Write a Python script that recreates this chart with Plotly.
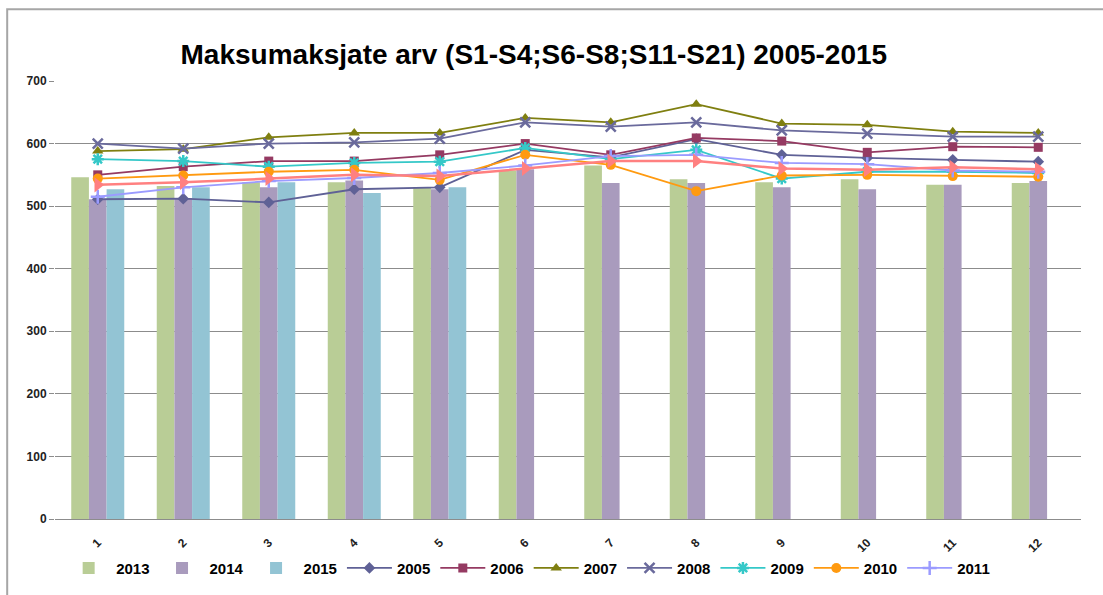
import plotly.graph_objects as go

categories = ["1", "2", "3", "4", "5", "6", "7", "8", "9", "10", "11", "12"]

bar_2013 = [546, 532, 538, 538, 530, 557, 565, 543, 538, 543, 534, 537]
bar_2014 = [511, 513, 530, 541, 527, 559, 537, 537, 530, 527, 534, 540]
bar_2015 = [527, 530, 538, 521, 530, None, None, None, None, None, None, None]

line_2005 = [511, 512, 506, 527, 530, 590, 578, 607, 582, 577, 574, 571]
line_2006 = [550, 563, 572, 572, 582, 600, 582, 609, 604, 586, 595, 594]
line_2007 = [588, 591, 610, 617, 617, 641, 634, 663, 632, 630, 619, 617]
line_2008 = [600, 592, 600, 602, 608, 634, 627, 634, 621, 616, 611, 611]
line_2009 = [575, 572, 563, 569, 571, 593, 575, 590, 544, 555, 555, 553]
line_2010 = [544, 549, 555, 558, 542, 582, 566, 524, 549, 550, 548, 547]
line_2011 = [515, 530, 540, 545, 553, 565, 580, 582, 569, 567, 557, 555]
line_2012 = [534, 538, 544, 550, 548, 560, 572, 572, 560, 558, 562, 559]

y_ticks = [0, 100, 200, 300, 400, 500, 600, 700]

fig = go.Figure()

bars = [("2013", bar_2013, "#B9CD96"), ("2014", bar_2014, "#A99BBD"), ("2015", bar_2015, "#93C4D4")]
for name, vals, col in bars:
    fig.add_trace(go.Bar(x=categories, y=vals, name=name, marker=dict(color=col, line=dict(width=0))))

lines = [
    ("2005", line_2005, "#5F6196", "diamond", 9, True),
    ("2006", line_2006, "#953A62", "square", 9, True),
    ("2007", line_2007, "#7F7F10", "triangle-up", 10, True),
    ("2008", line_2008, "#6A6A9C", "x-thin", 10, True),
    ("2009", line_2009, "#35C8C8", "asterisk", 10, True),
    ("2010", line_2010, "#FF9A10", "circle", 10, True),
    ("2011", line_2011, "#9B9BFF", "cross-thin", 10, True),
    ("2012", line_2012, "#FF8080", "triangle-right", 13, False),
]
for name, vals, col, sym, size, show in lines:
    thin = sym.endswith("-thin") or sym == "asterisk"
    marker = dict(symbol=sym, size=size, color=col,
                  line=dict(color=col, width=2.5 if thin else 0))
    fig.add_trace(go.Scatter(x=categories, y=vals, name=name, mode="lines+markers",
                             line=dict(color=col, width=2.5 if name == "2012" else 1.8),
                             marker=marker, showlegend=show))

# outer chart frame
fig.add_shape(type="rect", xref="paper", yref="paper",
              x0=-0.0466, x1=1.1, y0=-0.3, y1=1.164,
              line=dict(color="#A6A6A6", width=2), fillcolor="rgba(0,0,0,0)", layer="below")

fig.update_layout(
    width=1103, height=595,
    margin=dict(l=55, r=22, t=81, b=76, autoexpand=False),
    paper_bgcolor="white", plot_bgcolor="white",
    barmode="group", bargap=0.38, bargroupgap=0,
    title=dict(text="<b>Maksumaksjate arv (S1-S4;S6-S8;S11-S21) 2005-2015</b>",
               x=0.484, xanchor="center", y=0.909, yanchor="middle",
               font=dict(family="Liberation Sans Narrow, Arial Narrow, Liberation Sans, Arial", size=28, color="black")),
    font=dict(family="Liberation Sans, Arial", color="#1a1a1a"),
    legend=dict(orientation="h", x=0.006, xanchor="left", yref="container", y=0.045, yanchor="middle",
                font=dict(size=15, family="Liberation Sans, Arial", color="black", weight="bold"),
                itemwidth=45, tracegroupgap=0, traceorder="normal"),
    xaxis=dict(type="category", range=[-0.5, 11.5], tickangle=-45, showgrid=False, showline=True,
               linecolor="#8C8C8C", linewidth=1,
               tickfont=dict(size=12, color="#222", weight="bold"),
               ticks="outside", ticklen=11, tickcolor="rgba(0,0,0,0)"),
    yaxis=dict(range=[0, 700], tickvals=y_ticks, showgrid=True, gridcolor="#8C8C8C", gridwidth=1,
               zeroline=False, showline=False, ticks="outside", ticklen=5, tickcolor="#8C8C8C",
               tickfont=dict(size=12, color="#222", weight="bold")),
)

fig.write_html("out.html", config={"displayModeBar": False},
               post_script="document.body.style.margin='0';")
